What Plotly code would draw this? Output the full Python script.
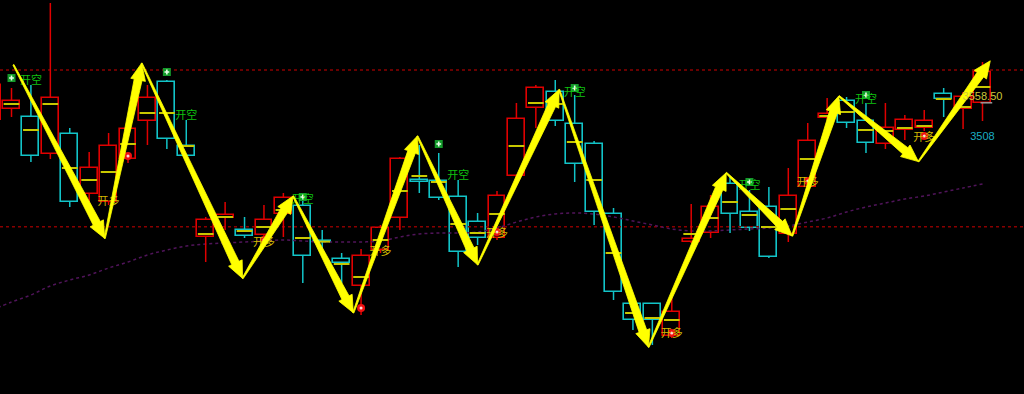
import math
import plotly.graph_objects as go

# ---------------- data ----------------
idx = list(range(-1, 51))
opens = [3530, 3543.75, 3533.75, 3487.5, 3512.5, 3437.5, 3427.5, 3481.25, 3528.75, 3577.5,
         3497.5, 3383.75, 3407.5, 3392.5, 3386.25, 3412.5, 3422.5, 3378.75, 3356.25, 3322.5,
         3367.5, 3407.5, 3455, 3453.75, 3433.75, 3402.5, 3382.5, 3460, 3545, 3565,
         3525, 3500, 3412.5, 3300, 3300, 3260, 3377.5, 3388.75, 3450, 3415,
         3421.25, 3387.5, 3446.25, 3532.5, 3553.75, 3528.75, 3500, 3517.5, 3520, 3562.5,
         3543.75, 3551.25]
highs = [3580, 3570, 3573.75, 3676.25, 3520, 3490, 3513.75, 3521.25, 3573.75, 3580,
         3530, 3408.75, 3427.5, 3408.75, 3423.75, 3438.75, 3432.5, 3392.5, 3363.75, 3368.75,
         3398.75, 3483.75, 3498.75, 3488.75, 3455, 3413.75, 3441.25, 3551.25, 3573.75, 3580,
         3561.25, 3503.75, 3420, 3302.5, 3301.25, 3308.75, 3425, 3436.25, 3458.75, 3442.5,
         3446.25, 3470, 3526.25, 3557.5, 3558.75, 3551.25, 3551.25, 3536.25, 3542.5, 3570,
         3565, 3602.5]
lows = [3523.75, 3533.75, 3477.5, 3481.25, 3421.25, 3427.5, 3423.75, 3476.25, 3498.75, 3493.75,
        3482.5, 3352.5, 3392.5, 3382.5, 3376.25, 3383.75, 3326.25, 3365, 3326.25, 3286.25,
        3363.75, 3392.5, 3438.75, 3430, 3346.25, 3373.75, 3380, 3455, 3520, 3522.5,
        3452.5, 3398.75, 3305, 3267.5, 3248.75, 3257.5, 3376.25, 3382.5, 3388.75, 3391.25,
        3357.5, 3377.5, 3442.5, 3530, 3520, 3488.75, 3493.75, 3505, 3516.25, 3533.75,
        3518.75, 3528.75]
closes = [3573.75, 3553.75, 3485, 3557.5, 3427.5, 3470, 3497.5, 3518.75, 3557.5, 3506.25,
          3485, 3405, 3411.25, 3385, 3405, 3432.5, 3360, 3377.5, 3351.25, 3360,
          3395, 3481.25, 3452.5, 3432.5, 3365, 3382.5, 3435, 3531.25, 3570, 3528.75,
          3475, 3415, 3315, 3280, 3280, 3290, 3381.25, 3421.25, 3412.5, 3395,
          3358.75, 3435, 3503.75, 3537.5, 3526.25, 3501.25, 3520, 3530, 3528.75, 3556.25,
          3558.75, 3590]
avg_line = [3550, 3550, 3517.5, 3550, 3470, 3455, 3465, 3500, 3538.75, 3538.75,
            3497.5, 3387.5, 3408.75, 3391.25, 3396.25, 3417.5, 3382.5, 3378, 3350, 3333.75,
            3380, 3441.25, 3460, 3452.5, 3400, 3388.75, 3412.5, 3497.5, 3551.25, 3550,
            3502.5, 3455, 3363.75, 3288.75, 3282.5, 3280, 3387.5, 3407.5, 3427.5, 3411.25,
            3396.25, 3418.75, 3481.25, 3535, 3540, 3517.5, 3516.25, 3520, 3522.5, 3556.25,
            3546.25, 3571.25]
ma = [3292.5, 3302.5, 3311.25, 3322.5, 3330, 3336.25, 3345, 3352.5, 3361.25, 3367.5,
      3372.5, 3375, 3376.25, 3377.5, 3378.75, 3380, 3378.75, 3377.5, 3377.5, 3377.5,
      3378.75, 3383.75, 3387.5, 3388.75, 3388.75, 3390, 3395, 3402.5, 3408.75, 3412.5,
      3413.75, 3412.5, 3408.75, 3403.75, 3398.75, 3393.75, 3391.25, 3391.25, 3392.5, 3393.75,
      3395, 3397.5, 3402.5, 3407.5, 3415, 3421.25, 3426.25, 3431.25, 3435, 3440,
      3445, 3450]

level_lines = [3592.5, 3396.5]

# zigzag pivots (candle index, price)
pivot_x = [0.1, 4.8, 6.7, 11.9, 14.5, 17.6, 20.9, 24.0, 28.2, 32.8, 36.8, 40.2, 42.6, 46.7, 50.4]
pivot_y = [3599, 3382, 3601, 3332, 3435, 3289, 3510, 3349, 3568, 3246, 3464, 3385, 3560, 3478, 3604]

# sell signals (开空)
short_mark_x = [0, 8, 15, 22, 29, 38, 44]
short_mark_y = [3582.5, 3590, 3433.75, 3500, 3570, 3452.5, 3561.25]
short_text_x = [1, 9, 15, 23, 29, 38, 44]
short_text_y = [3578.75, 3535, 3430, 3460, 3563.75, 3447.5, 3555]
# buy signals (开多)
long_mark_x = [6, 13, 18, 25, 34, 41, 47]
long_mark_y = [3485, 3380, 3295, 3390, 3263.75, 3453.75, 3510]
long_text_x = [5, 13, 19, 25, 34, 41, 47]
long_text_y = [3427.5, 3376.25, 3365, 3387.5, 3262.5, 3451.25, 3507.5]

price_labels = ["3558.50", "3508"]
price_label_x = [50, 50]
price_label_y = [3558.5, 3508]
last_mark_x = [49.9, 50.5]
last_mark_y = [3551.5, 3551.5]

# ---------------- layout constants ----------------
W, H = 1024, 394
X0, X1 = -0.592, 52.137
Y0, Y1 = 3187.5, 3680

RED = "#e00000"
CYAN = "#12c4c8"
YEL = "#c8c800"
BODY_W = 0.87

fig = go.Figure()

# reference dashed lines
for lv in level_lines:
    fig.add_trace(go.Scatter(x=[X0, X1], y=[lv, lv], mode="lines",
                             line=dict(color="#8a0000", width=1.5, dash="dot"),
                             hoverinfo="skip", showlegend=False))

# moving average
fig.add_trace(go.Scatter(x=idx, y=ma, mode="lines", line=dict(color="#50145a", width=1.5, dash="dot", shape="spline"),
                         hoverinfo="skip", showlegend=False))

# wicks
for col, up in ((RED, True), (CYAN, False)):
    wx, wy = [], []
    for i, o, h, l, c in zip(idx, opens, highs, lows, closes):
        if (c >= o) != up:
            continue
        top, bot = max(o, c), min(o, c)
        wx += [i, i, None, i, i, None]
        wy += [h, top, None, bot, l, None]
    fig.add_trace(go.Scatter(x=wx, y=wy, mode="lines", line=dict(color=col, width=1.5),
                             hoverinfo="skip", showlegend=False))

# bodies (hollow)
bx, bbase, bh, bcol = [], [], [], []
for i, o, c in zip(idx, opens, closes):
    bx.append(i)
    bbase.append(min(o, c))
    bh.append(max(abs(c - o), 0.6))
    bcol.append(RED if c >= o else CYAN)
fig.add_trace(go.Bar(x=bx, y=bh, base=bbase, width=BODY_W,
                     marker=dict(color="#000000", line=dict(color=bcol, width=1.6)),
                     hoverinfo="skip", showlegend=False))

# yellow average-price ticks
yx, yy = [], []
for i, a in zip(idx, avg_line):
    yx += [i - BODY_W / 2 + 0.03, i + BODY_W / 2 - 0.03, None]
    yy += [a, a, None]
fig.add_trace(go.Scatter(x=yx, y=yy, mode="lines", line=dict(color=YEL, width=2),
                         hoverinfo="skip", showlegend=False))

# signal markers
fig.add_trace(go.Scatter(x=short_mark_x, y=short_mark_y, mode="markers",
                         marker=dict(symbol="square", size=8, color="#139a2a"),
                         hoverinfo="skip", showlegend=False))
fig.add_trace(go.Scatter(x=short_mark_x, y=short_mark_y, mode="markers",
                         marker=dict(symbol="cross", size=4, color="#e8ffe8"),
                         hoverinfo="skip", showlegend=False))
fig.add_trace(go.Scatter(x=long_mark_x, y=long_mark_y, mode="markers",
                         marker=dict(symbol="circle", size=8, color="#f01010"),
                         hoverinfo="skip", showlegend=False))
fig.add_trace(go.Scatter(x=long_mark_x, y=long_mark_y, mode="markers",
                         marker=dict(symbol="circle", size=3, color="#ffd8d8"),
                         hoverinfo="skip", showlegend=False))

# signal texts
fig.add_trace(go.Scatter(x=short_text_x, y=short_text_y, mode="text", text=["开空"] * len(short_text_x),
                         textfont=dict(family="Noto Sans CJK SC", size=11, color="#10c010"),
                         textposition="middle center", hoverinfo="skip", showlegend=False))
fig.add_trace(go.Scatter(x=long_text_x, y=long_text_y, mode="text", text=["开多"] * len(long_text_x),
                         textfont=dict(family="Noto Sans CJK SC", size=11, color="#d2b800"),
                         textposition="middle center", hoverinfo="skip", showlegend=False))


# tapered zigzag arrows (geometry computed in pixel space from the pivot data)
def to_px(x, y):
    return (x - X0) / (X1 - X0) * W, (Y1 - y) / (Y1 - Y0) * H


def to_data(px, py):
    return X0 + px / W * (X1 - X0), Y1 - py / H * (Y1 - Y0)


HEAD_L, HEAD_HW, SHAFT_HW, TAIL_HW = 17, 7.5, 4.0, 0.6
for k in range(len(pivot_x) - 1):
    ax, ay = to_px(pivot_x[k], pivot_y[k])
    bx_, by_ = to_px(pivot_x[k + 1], pivot_y[k + 1])
    dx, dy = bx_ - ax, by_ - ay
    L = math.hypot(dx, dy)
    ux, uy = dx / L, dy / L
    nx, ny = -uy, ux
    hx, hy = bx_ - ux * HEAD_L, by_ - uy * HEAD_L
    pts = [
        (ax + nx * TAIL_HW, ay + ny * TAIL_HW),
        (hx + nx * SHAFT_HW, hy + ny * SHAFT_HW),
        (hx + nx * HEAD_HW, hy + ny * HEAD_HW),
        (bx_, by_),
        (hx - nx * HEAD_HW, hy - ny * HEAD_HW),
        (hx - nx * SHAFT_HW, hy - ny * SHAFT_HW),
        (ax - nx * TAIL_HW, ay - ny * TAIL_HW),
    ]
    pts.append(pts[0])
    dpts = [to_data(p[0], p[1]) for p in pts]
    fig.add_trace(go.Scatter(x=[p[0] for p in dpts], y=[p[1] for p in dpts], mode="lines",
                             fill="toself", fillcolor="#ffff00",
                             line=dict(color="#ffff00", width=0.8),
                             hoverinfo="skip", showlegend=False))

# price labels
fig.add_trace(go.Scatter(x=last_mark_x, y=last_mark_y, mode="lines", line=dict(color="#9a9a9a", width=1.5),
                         hoverinfo="skip", showlegend=False))
fig.add_trace(go.Scatter(x=price_label_x, y=price_label_y, mode="text", text=price_labels,
                         textfont=dict(family="Liberation Sans", size=11, color=["#cfc83a", "#1aaec4"]),
                         textposition="middle center", hoverinfo="skip", showlegend=False))

fig.update_layout(
    width=W, height=H,
    margin=dict(l=0, r=0, t=0, b=0),
    paper_bgcolor="#000000", plot_bgcolor="#000000",
    showlegend=False, bargap=0,
    xaxis=dict(range=[X0, X1], visible=False, showgrid=False, zeroline=False, fixedrange=True),
    yaxis=dict(range=[Y0, Y1], visible=False, showgrid=False, zeroline=False, fixedrange=True),
)

fig.write_html("out.html", include_plotlyjs=True, config={"displayModeBar": False})
